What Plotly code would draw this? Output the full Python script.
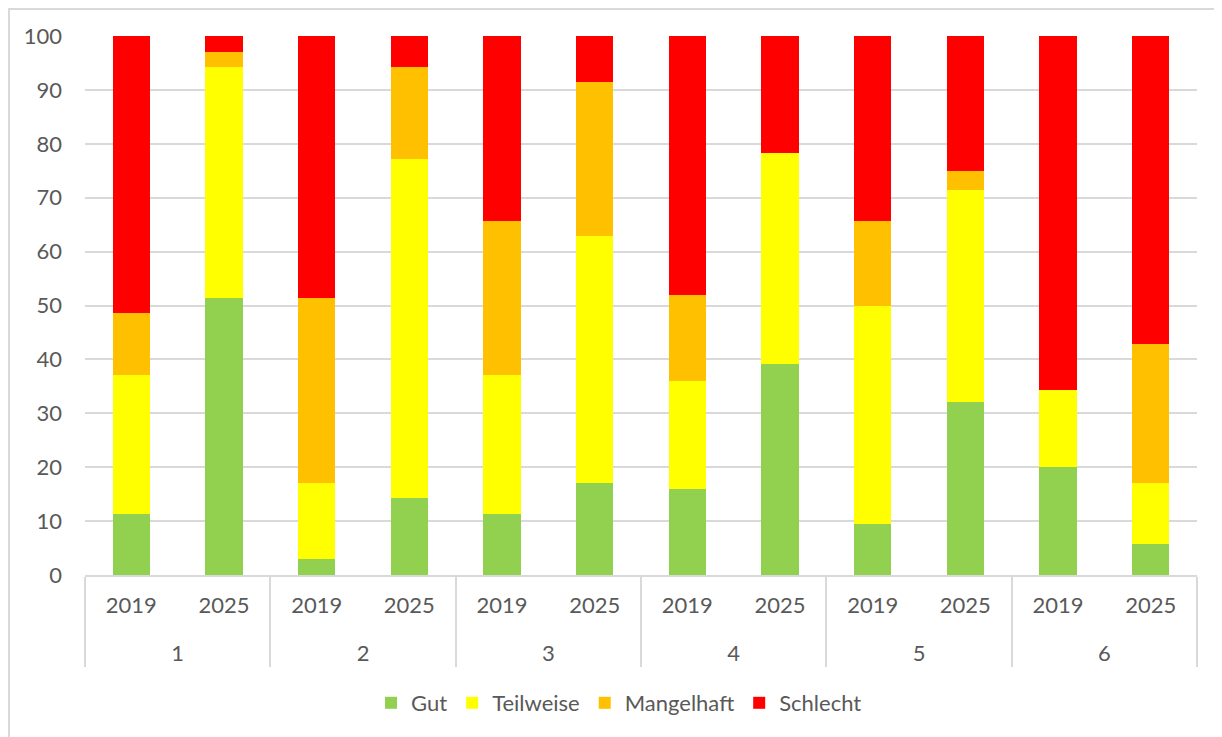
import plotly.graph_objects as go

groups = ["1", "1", "2", "2", "3", "3", "4", "4", "5", "5", "6", "6"]
years = ["2019", "2025"] * 6

gut = [11.4, 51.4, 2.9, 14.3, 11.4, 17.1, 16.0, 39.1, 9.4, 32.1, 20.0, 5.7]
teilweise = [25.7, 42.9, 14.2, 62.8, 25.7, 45.8, 20.0, 39.2, 40.6, 39.3, 14.3, 11.4]
mangelhaft = [11.5, 2.8, 34.3, 17.2, 28.6, 28.5, 16.0, 0.0, 15.6, 3.6, 0.0, 25.8]
schlecht = [51.4, 2.9, 48.6, 5.7, 34.3, 8.6, 48.0, 21.7, 34.4, 25.0, 65.7, 57.1]

series = [
    ("Gut", gut, "#92D050"),
    ("Teilweise", teilweise, "#FFFF00"),
    ("Mangelhaft", mangelhaft, "#FFC000"),
    ("Schlecht", schlecht, "#FF0000"),
]

FONT = "Lato, Open Sans, sans-serif"
TXT = "#595959"
GRID = "#D9D9D9"
FS = 22

# the page body adds an 8px offset; plot area should sit at x 85..1197, y 36..575
L, T, R, B = 77, 28, 33, 170
PW = 1222 - L - R
PH = 737 - T - B


def px_x(p):
    return (p - 85) / PW


def px_y(p):
    return (575 - p) / PH


# outer label with a leading blank line to lower the group row
group_labels = ["<br>" + g for g in groups]

fig = go.Figure()
for name, vals, color in series:
    fig.add_trace(go.Bar(
        x=[group_labels, years], y=vals, name=name,
        marker=dict(color=color, line=dict(width=0)),
    ))

fig.update_layout(
    barmode="stack",
    bargap=0.6,
    width=1222, height=737,
    margin=dict(l=L, r=R, t=T, b=B),
    paper_bgcolor="white",
    plot_bgcolor="white",
    font=dict(family=FONT, size=FS, color=TXT),
    legend=dict(
        orientation="h", x=px_x(619), xanchor="center", y=px_y(703), yanchor="middle",
        font=dict(family=FONT, size=FS, color=TXT),
        itemwidth=30, traceorder="normal",
    ),
    xaxis=dict(
        type="multicategory",
        showline=True, linecolor=GRID, linewidth=2,
        showgrid=False,
        showdividers=True, dividercolor=GRID, dividerwidth=2,
        tickfont=dict(family=FONT, size=FS, color=TXT),
        ticklabelstandoff=10,
        automargin=False,
    ),
    yaxis=dict(
        range=[0, 100], dtick=10, tick0=0,
        showgrid=True, gridcolor=GRID, gridwidth=2,
        zeroline=False, showline=False,
        tickfont=dict(family=FONT, size=FS, color=TXT),
        ticklabelstandoff=22,
        automargin=False,
    ),
)

# outer chart border (left and top visible)
fig.add_shape(type="rect", xref="paper", yref="paper",
              x0=px_x(9), x1=px_x(1240),
              y0=px_y(760), y1=px_y(9),
              line=dict(color=GRID, width=2), layer="below")

fig.write_html("out.html")
